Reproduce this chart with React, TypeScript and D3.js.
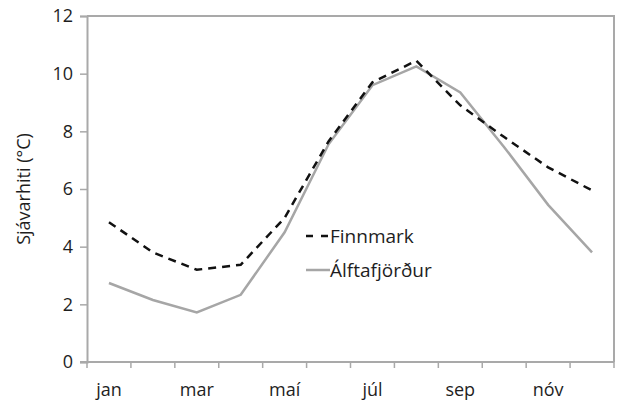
import { useEffect, useRef } from 'react';
import * as d3 from 'd3';

const months = ['jan', 'feb', 'mar', 'apr', 'maí', 'jún', 'júl', 'ágú', 'sep', 'okt', 'nóv', 'des'];
const finnmark = [4.85, 3.8, 3.2, 3.37, 5.0, 7.65, 9.7, 10.45, 8.9, 7.8, 6.75, 5.95];
const alftafjordur = [2.74, 2.15, 1.72, 2.33, 4.5, 7.55, 9.6, 10.25, 9.35, 7.45, 5.45, 3.8];
const yTicks = [0, 2, 4, 6, 8, 10, 12];

const width = 622;
const height = 403;

export default function App() {
  const svgRef = useRef<SVGSVGElement>(null);

  useEffect(() => {
    const svg = d3.select(svgRef.current);
    svg.selectAll('*').remove();

    const left = 87, right = 614, top = 16, bottom = 362;
    const axisColor = '#a9a9a9';
    const textColor = '#1e1e1e';
    const font = '"Open Sans", "Liberation Sans", sans-serif';

    const x = d3.scaleBand().domain(months).range([left, right]).padding(0);
    const y = d3.scaleLinear().domain([0, 12]).range([bottom, top]);

    // plot frame (top + right)
    svg.append('path')
      .attr('d', `M${left},${top}H${right}V${bottom}`)
      .attr('fill', 'none')
      .attr('stroke', axisColor)
      .attr('stroke-width', 2);

    // y axis
    const yAxis = svg.append('g')
      .attr('transform', `translate(${left},0)`)
      .call(d3.axisLeft(y).tickValues(yTicks).tickSize(7).tickPadding(7));
    yAxis.select('.domain').attr('stroke', axisColor).attr('stroke-width', 2);
    yAxis.selectAll('.tick line').attr('stroke', axisColor).attr('stroke-width', 1.5);
    yAxis.selectAll('.tick text')
      .attr('fill', textColor)
      .style('font-family', font)
      .style('font-size', '18px');

    // x axis: ticks on band edges, labels every other month
    const xg = svg.append('g');
    xg.append('line')
      .attr('x1', left - 7).attr('x2', right)
      .attr('y1', bottom).attr('y2', bottom)
      .attr('stroke', axisColor).attr('stroke-width', 2);
    const edges = months.map(m => x(m)!).concat([right]);
    xg.selectAll('.xtick')
      .data(edges)
      .enter().append('line')
      .attr('x1', d => d).attr('x2', d => d)
      .attr('y1', bottom).attr('y2', bottom + 6)
      .attr('stroke', axisColor).attr('stroke-width', 1.5);
    xg.selectAll('.xlabel')
      .data(months.filter((_, i) => i % 2 === 0))
      .enter().append('text')
      .attr('x', d => x(d)! + x.bandwidth() / 2)
      .attr('y', 396)
      .attr('text-anchor', 'middle')
      .attr('fill', textColor)
      .style('font-family', font)
      .style('font-size', '18px')
      .text(d => d);

    // y axis title
    svg.append('text')
      .attr('transform', `translate(30,189) rotate(-90)`)
      .attr('text-anchor', 'middle')
      .attr('fill', textColor)
      .style('font-family', font)
      .style('font-size', '18px')
      .text('Sjávarhiti (°C)');

    const line = d3.line<number>()
      .x((_, i) => x(months[i])! + x.bandwidth() / 2)
      .y(d => y(d));

    svg.append('path')
      .datum(alftafjordur)
      .attr('d', line)
      .attr('fill', 'none')
      .attr('stroke', '#a6a6a6')
      .attr('stroke-width', 2.5);

    svg.append('path')
      .datum(finnmark)
      .attr('d', line)
      .attr('fill', 'none')
      .attr('stroke', '#111')
      .attr('stroke-width', 2.5)
      .attr('stroke-dasharray', '8,6');

    // legend
    const legend = svg.append('g').attr('transform', 'translate(306,0)');
    const items = [
      { label: 'Finnmark', color: '#111', dash: '7,8', y: 236 },
      { label: 'Álftafjörður', color: '#a6a6a6', dash: null, y: 270 },
    ];
    items.forEach(it => {
      legend.append('line')
        .attr('x1', 0).attr('x2', 24)
        .attr('y1', it.y).attr('y2', it.y)
        .attr('stroke', it.color)
        .attr('stroke-width', 2.5)
        .attr('stroke-dasharray', it.dash);
      legend.append('text')
        .attr('x', 24)
        .attr('y', it.y + 7)
        .attr('fill', textColor)
        .style('font-family', font)
        .style('font-size', '19px')
        .text(it.label);
    });
  }, []);

  return (
    <svg ref={svgRef} width={width} height={height}
      style={{ position: 'absolute', left: 0, top: 0, background: '#fff' }} />
  );
}
